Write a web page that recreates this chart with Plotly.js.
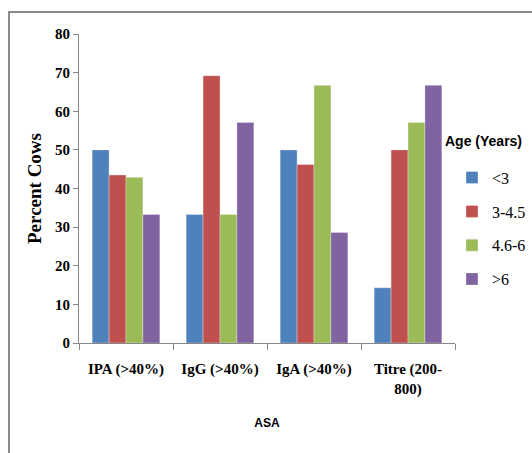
<!DOCTYPE html>
<html>
<head>
<meta charset="utf-8">
<script src="https://cdn.plot.ly/plotly-3.0.1.min.js"></script>
<style>
  html, body { margin: 0; padding: 0; background: #fff; }
  #wrap { position: relative; width: 532px; height: 453px; overflow: hidden; }
  #frame { position: absolute; left: 8px; top: 11px; right: -5px; bottom: -5px;
           border-left: 2px solid #8a8a8a; border-top: 2px solid #8a8a8a; pointer-events: none; z-index: 5; }
  #chart { position: absolute; left: 0; top: 0; width: 532px; height: 453px; }
</style>
</head>
<body>
<div id="wrap">
  <div id="chart"></div>
  <div id="frame"></div>
</div>
<script>
const categories = ["IPA (>40%)", "IgG (>40%)", "IgA (>40%)", "Titre (200-<br>800)"];
const seriesNames = ["<3", "3-4.5", "4.6-6", ">6"];
const ageLt3 = [50.0, 33.3, 50.0, 14.3];
const age3to45 = [43.5, 69.2, 46.2, 50.0];
const age46to6 = [42.9, 33.3, 66.7, 57.1];
const ageGt6 = [33.3, 57.1, 28.6, 66.7];
const colors = ["#4F81BD", "#C0504D", "#9BBB59", "#8064A2"];
const allSeries = [ageLt3, age3to45, age46to6, ageGt6];

const traces = allSeries.map((vals, i) => ({
  type: "bar",
  name: seriesNames[i],
  x: categories,
  y: vals,
  legendgroup: "g" + i,
  marker: { color: colors[i], line: { color: "rgba(255,255,255,0.6)", width: 0.5 } },
  hoverinfo: "x+y+name"
}));

const serif = "Liberation Serif";
const sans = "Liberation Sans";

const layout = {
  width: 532, height: 453,
  font: { family: serif, color: "#000" },
  margin: { l: 79, r: 77, t: 34, b: 110, autoexpand: false },
  paper_bgcolor: "#ffffff",
  plot_bgcolor: "#ffffff",
  barmode: "group",
  bargap: 0.28,
  bargroupgap: 0,
  showlegend: true,
  legend: {
    x: 0.992, xanchor: "left", y: 0.59, yanchor: "top",
    font: { family: serif, size: 16, color: "#000" },
    tracegroupgap: 10,
    traceorder: "grouped",
    bgcolor: "rgba(0,0,0,0)"
  },
  xaxis: {
    type: "category",
    tickangle: 0,
    showline: true, linecolor: "#868686", linewidth: 1,
    ticks: "outside", tickson: "boundaries", ticklen: 6, tickcolor: "#868686",
    ticklabelstandoff: 12,
    tickfont: { family: serif, size: 15, color: "#000", weight: "bold" },
    title: { text: "ASA", font: { family: sans, size: 12, color: "#000", weight: "bold" }, standoff: 22 },
    showgrid: false, zeroline: false
  },
  yaxis: {
    range: [0, 80], dtick: 10, tick0: 0,
    showline: true, linecolor: "#868686", linewidth: 1,
    ticks: "outside", ticklen: 5, tickcolor: "#868686",
    tickfont: { family: serif, size: 15, color: "#000", weight: "bold" },
    title: { text: "Percent Cows", font: { family: serif, size: 19, color: "#000", weight: "bold" }, standoff: 8 },
    showgrid: false, zeroline: false
  },
  annotations: [{
    text: "Age (Years)", xref: "paper", yref: "paper",
    x: 0.968, xanchor: "left", y: 0.655, yanchor: "middle",
    showarrow: false,
    font: { family: sans, size: 14, color: "#000", weight: "bold" }
  }]
};

Plotly.newPlot("chart", traces, layout, { displayModeBar: false });
</script>
</body>
</html>
